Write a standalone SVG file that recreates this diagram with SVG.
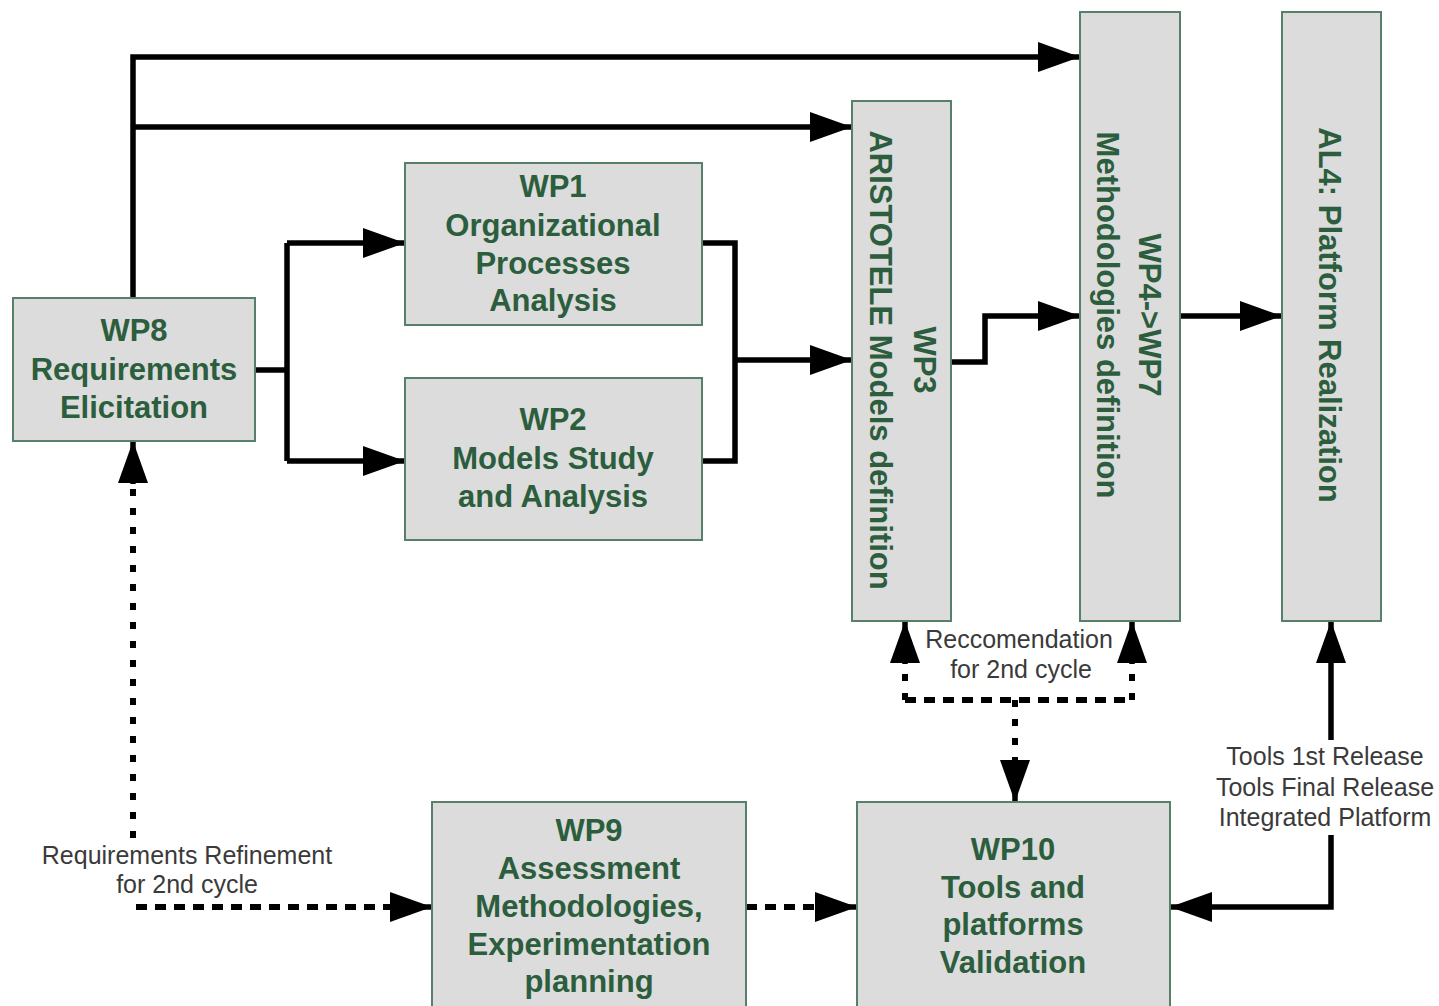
<svg xmlns="http://www.w3.org/2000/svg" width="1439" height="1006" viewBox="0 0 1439 1006">
  <defs>
    <marker id="head" markerUnits="userSpaceOnUse" markerWidth="44" markerHeight="32" refX="42" refY="15" orient="auto">
      <path d="M0,0 L42,15 L0,30 Z" fill="#000"/>
    </marker>
    <style>
      .box { fill: #dcdcdc; stroke: #56806a; stroke-width: 2; }
      .bt { font-family: "Liberation Sans", Arial, sans-serif; font-weight: bold; font-size: 31px; fill: #2c5e3e; text-anchor: middle; }
      .lbl { font-family: "Liberation Sans", Arial, sans-serif; font-size: 25px; fill: #3a3a3a; text-anchor: middle; }
      .solid { fill: none; stroke: #000; stroke-width: 5.5; stroke-linejoin: miter; }
      .dashH { fill: none; stroke: #000; stroke-width: 6; stroke-dasharray: 11 8; }
      .dashV { fill: none; stroke: #000; stroke-width: 6; stroke-dasharray: 7 12; }
      .arrow { marker-end: url(#head); }
    </style>
  </defs>

  <rect width="1439" height="1006" fill="#fff"/>

  <!-- connectors -->
  <g id="connectors">
    <!-- WP8 feeds WP4->WP7 and WP3 along the top -->
    <path class="solid arrow" d="M133,298 V57 H1080"/>
    <path class="solid arrow" d="M133,127 H852"/>
    <!-- WP8 fork to WP1 / WP2 -->
    <path class="solid" d="M255,370 H287"/>
    <path class="solid" d="M287,243 V461"/>
    <path class="solid arrow" d="M287,243 H405"/>
    <path class="solid arrow" d="M287,461 H405"/>
    <!-- WP1 / WP2 join into WP3 -->
    <path class="solid" d="M702,243 H735 V461 H702"/>
    <path class="solid arrow" d="M735,360 H852"/>
    <!-- WP3 to WP4->WP7 -->
    <path class="solid arrow" d="M951,362 H985 V316 H1080"/>
    <!-- WP4->WP7 to AL4 -->
    <path class="solid arrow" d="M1180,316 H1282"/>
    <!-- refinement loop back to WP8 -->
    <path class="dashV" d="M133,838 V482"/>
    <path class="solid arrow" d="M133,484 V441"/>
    <path class="dashH" d="M136,907 H392"/>
    <path class="solid arrow" d="M390,907 H432"/>
    <!-- WP9 to WP10 -->
    <path class="dashH" d="M746,907 H817"/>
    <path class="solid arrow" d="M815,907 H857"/>
    <!-- recommendation loop from WP10 -->
    <path class="dashH" d="M905,700 H1132"/>
    <path class="dashV" d="M905,700 V662"/>
    <path class="solid arrow" d="M905,664 V621"/>
    <path class="dashV" d="M1132,700 V662"/>
    <path class="solid arrow" d="M1132,664 V621"/>
    <path class="dashV" d="M1015,700 V760"/>
    <path class="solid arrow" d="M1015,758 V802"/>
    <!-- releases between WP10 and AL4 -->
    <path class="solid arrow" d="M1331,740 V621"/>
    <path class="solid arrow" d="M1331,835 V907 H1170"/>
  </g>

  <!-- nodes -->
  <g id="wp8">
    <rect class="box" x="13" y="298" width="242" height="143"/>
    <text class="bt" x="134" y="341">WP8</text>
    <text class="bt" x="134" y="380">Requirements</text>
    <text class="bt" x="134" y="418">Elicitation</text>
  </g>

  <g id="wp1">
    <rect class="box" x="405" y="163" width="297" height="162"/>
    <text class="bt" x="553" y="197">WP1</text>
    <text class="bt" x="553" y="236">Organizational</text>
    <text class="bt" x="553" y="274">Processes</text>
    <text class="bt" x="553" y="311">Analysis</text>
  </g>

  <g id="wp2">
    <rect class="box" x="405" y="378" width="297" height="162"/>
    <text class="bt" x="553" y="430">WP2</text>
    <text class="bt" x="553" y="469">Models Study</text>
    <text class="bt" x="553" y="507">and Analysis</text>
  </g>

  <g id="wp3">
    <rect class="box" x="852" y="101" width="99" height="520"/>
    <g transform="translate(902,360) rotate(90)">
      <text class="bt" x="0" y="-12">WP3</text>
      <text class="bt" x="0" y="32">ARISTOTELE Models definition</text>
    </g>
  </g>

  <g id="wp4-wp7">
    <rect class="box" x="1080" y="12" width="100" height="609"/>
    <g transform="translate(1130,315) rotate(90)">
      <text class="bt" x="0" y="-9">WP4-&gt;WP7</text>
      <text class="bt" x="0" y="33">Methodologies definition</text>
    </g>
  </g>

  <g id="al4">
    <rect class="box" x="1282" y="12" width="99" height="609"/>
    <g transform="translate(1331,315) rotate(90)">
      <text class="bt" x="0" y="12">AL4: Platform Realization</text>
    </g>
  </g>

  <g id="wp9">
    <rect class="box" x="432" y="802" width="314" height="220"/>
    <text class="bt" x="589" y="841">WP9</text>
    <text class="bt" x="589" y="879">Assessment</text>
    <text class="bt" x="589" y="917">Methodologies,</text>
    <text class="bt" x="589" y="955">Experimentation</text>
    <text class="bt" x="589" y="992">planning</text>
  </g>

  <g id="wp10">
    <rect class="box" x="857" y="802" width="313" height="220"/>
    <text class="bt" x="1013" y="860">WP10</text>
    <text class="bt" x="1013" y="898">Tools and</text>
    <text class="bt" x="1013" y="935">platforms</text>
    <text class="bt" x="1013" y="973">Validation</text>
  </g>

  <!-- connector labels -->
  <g id="labels">
    <text class="lbl" x="187" y="864">Requirements Refinement</text>
    <text class="lbl" x="187" y="893">for 2nd cycle</text>
    <text class="lbl" x="1019" y="648">Reccomendation</text>
    <text class="lbl" x="1021" y="678">for 2nd cycle</text>
    <text class="lbl" x="1325" y="765">Tools 1st Release</text>
    <text class="lbl" x="1325" y="796">Tools Final Release</text>
    <text class="lbl" x="1325" y="826">Integrated Platform</text>
  </g>
</svg>
